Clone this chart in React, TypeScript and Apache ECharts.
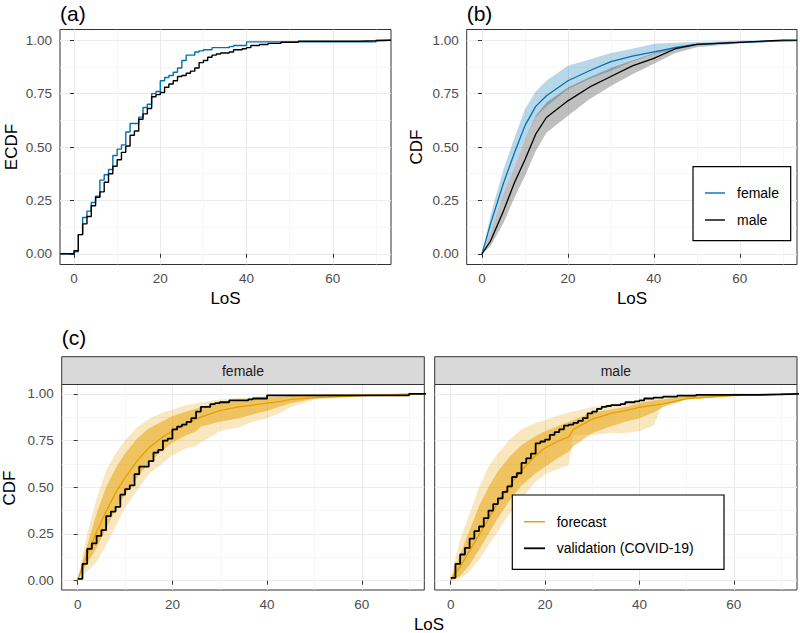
import React, { useEffect, useRef } from "react";
import * as echarts from "echarts";

const FONT = "'Liberation Sans', Arial, sans-serif";

// ---- tick values ----
const X_MAJOR = [0, 20, 40, 60];
const X_MINOR = [10, 30, 50, 70];
const Y_MAJOR = [0, 0.25, 0.5, 0.75, 1];
const Y_MINOR = [0.125, 0.375, 0.625, 0.875];

// ---- (a) empirical CDFs ----
const FEM_X = [0, 1, 2, 3, 4, 5, 6, 7, 8, 9, 10, 11, 12, 13, 15, 16, 17, 18, 19, 20, 21, 22, 23, 24, 25, 26, 28, 29, 30, 32, 36, 37, 40, 70];
const FEM_Y = [0.01, 0.09, 0.17, 0.2, 0.24, 0.27, 0.345, 0.37, 0.395, 0.46, 0.49, 0.51, 0.57, 0.61, 0.64, 0.685, 0.7, 0.75, 0.76, 0.81, 0.825, 0.835, 0.85, 0.87, 0.905, 0.93, 0.945, 0.95, 0.955, 0.965, 0.97, 0.975, 0.992, 1.0];
const MAL_X = [0, 1, 2, 3, 4, 5, 6, 7, 8, 9, 10, 11, 12, 13, 14, 15, 16, 17, 18, 19, 20, 21, 22, 23, 24, 25, 26, 27, 28, 29, 30, 31, 32, 33, 34, 36, 37, 39, 40, 41, 43, 45, 48, 52, 66, 70];
const MAL_Y = [0.015, 0.09, 0.14, 0.175, 0.225, 0.265, 0.29, 0.335, 0.375, 0.41, 0.44, 0.475, 0.505, 0.555, 0.575, 0.63, 0.655, 0.68, 0.735, 0.745, 0.755, 0.78, 0.795, 0.81, 0.83, 0.835, 0.845, 0.855, 0.87, 0.895, 0.905, 0.92, 0.93, 0.935, 0.94, 0.945, 0.955, 0.96, 0.965, 0.975, 0.98, 0.985, 0.99, 0.995, 0.997, 1.0];

// ---- (b) estimated CDFs with bands ----
const XB = [0, 2, 5, 7.5, 10, 12.5, 15, 20, 25, 30, 35, 40, 45, 50, 60, 70, 73.3];
const FB_MED = [0, 0.14, 0.33, 0.47, 0.6, 0.69, 0.74, 0.81, 0.857, 0.9, 0.925, 0.945, 0.965, 0.98, 0.99, 0.997, 0.998];
const FB_LO = [0, 0.1, 0.285, 0.4, 0.536, 0.64, 0.69, 0.77, 0.818, 0.857, 0.9, 0.936, 0.955, 0.975, 0.99, 0.995, 0.996];
const FB_HI = [0, 0.18, 0.395, 0.54, 0.677, 0.76, 0.81, 0.88, 0.91, 0.94, 0.96, 0.983, 0.988, 0.992, 0.997, 1, 1];
const MB_MED = [0, 0.06, 0.2, 0.33, 0.44, 0.56, 0.638, 0.716, 0.78, 0.83, 0.88, 0.915, 0.96, 0.98, 0.99, 1, 1];
const MB_LO = [0, 0.035, 0.144, 0.26, 0.364, 0.48, 0.567, 0.646, 0.724, 0.785, 0.84, 0.89, 0.94, 0.967, 0.985, 0.995, 0.996];
const MB_HI = [0, 0.1, 0.285, 0.4, 0.536, 0.646, 0.708, 0.779, 0.826, 0.87, 0.905, 0.94, 0.97, 0.985, 0.995, 1, 1];

// ---- (c) forecast vs validation ----
const XC = [0, 2, 4, 6, 8, 10, 12.5, 15, 18, 20, 23, 25, 26, 30, 34, 37, 40, 43, 45, 50, 60, 70, 73.3];
const FC_MED = [0.005, 0.14, 0.26, 0.37, 0.47, 0.55, 0.64, 0.71, 0.77, 0.8, 0.845, 0.865, 0.875, 0.91, 0.93, 0.94, 0.95, 0.96, 0.97, 0.98, 0.99, 0.998, 1];
const FC_IN_LO = [0, 0.095, 0.175, 0.28, 0.38, 0.46, 0.55, 0.63, 0.7, 0.74, 0.78, 0.8, 0.825, 0.85, 0.87, 0.89, 0.91, 0.935, 0.95, 0.975, 0.99, 0.997, 0.997];
const FC_IN_HI = [0.005, 0.19, 0.36, 0.5, 0.6, 0.68, 0.76, 0.815, 0.855, 0.88, 0.905, 0.92, 0.93, 0.95, 0.963, 0.97, 0.98, 0.985, 0.99, 0.995, 0.998, 1, 1];
const FC_OUT_LO = [0, 0.05, 0.1, 0.19, 0.29, 0.39, 0.48, 0.57, 0.63, 0.67, 0.71, 0.72, 0.74, 0.8, 0.82, 0.85, 0.87, 0.9, 0.93, 0.97, 0.985, 0.995, 0.995];
const FC_OUT_HI = [0.01, 0.25, 0.44, 0.59, 0.68, 0.75, 0.82, 0.865, 0.9, 0.915, 0.94, 0.95, 0.955, 0.97, 0.978, 0.983, 0.99, 0.993, 0.995, 0.998, 1, 1, 1];
const MC_MED = [0.005, 0.075, 0.16, 0.245, 0.33, 0.42, 0.51, 0.59, 0.67, 0.71, 0.75, 0.77, 0.81, 0.865, 0.895, 0.91, 0.928, 0.94, 0.945, 0.975, 0.99, 1, 1];
const MC_IN_LO = [0, 0.025, 0.085, 0.165, 0.25, 0.335, 0.43, 0.51, 0.575, 0.61, 0.66, 0.69, 0.72, 0.79, 0.827, 0.85, 0.87, 0.9, 0.93, 0.97, 0.99, 0.998, 0.998];
const MC_IN_HI = [0.01, 0.14, 0.27, 0.4, 0.5, 0.586, 0.665, 0.725, 0.775, 0.8, 0.83, 0.85, 0.86, 0.9, 0.916, 0.93, 0.95, 0.965, 0.97, 0.99, 1, 1, 1];
const MC_OUT_LO = [0, 0.01, 0.05, 0.11, 0.19, 0.264, 0.36, 0.44, 0.53, 0.57, 0.6, 0.62, 0.78, 0.78, 0.79, 0.79, 0.8, 0.83, 0.945, 0.97, 0.99, 0.997, 0.997];
const MC_OUT_HI = [0.015, 0.22, 0.36, 0.5, 0.61, 0.68, 0.755, 0.81, 0.845, 0.86, 0.885, 0.9, 0.905, 0.93, 0.945, 0.955, 0.965, 0.975, 0.98, 0.99, 1, 1, 1];

const BLUE = "#0072B2";
const ORANGE = "#E69F00";

// grid layout: [left, top, width, height, xmin, xmax]
const GRIDS = [
  [60, 29.5, 331, 235, -3.25, 73.5],
  [466.7, 29.5, 330.3, 235, -3.55, 73.3],
  [61.7, 384.5, 362.6, 205.5, -3.38, 73.2],
  [434.7, 384.5, 362.3, 205.5, -3.4, 73.4],
];
const Y_MIN = -0.05;
const Y_MAX = 1.05;

function pairs(xs: number[], ys: number[]) {
  return xs.map((x, i) => [x, ys[i]]);
}

function ribbon(xs: number[], lo: number[], hi: number[], gi: number, fill: string, z: number) {
  return {
    type: "custom",
    xAxisIndex: 2 * gi,
    yAxisIndex: 2 * gi,
    clip: true,
    silent: true,
    z,
    data: xs.map((x, i) => [x, lo[i], hi[i]]),
    encode: { x: 0, y: [1, 2] },
    renderItem: (params: any, api: any) => {
      if (params.dataIndex !== 0) return null;
      const pts: number[][] = [];
      for (let i = 0; i < xs.length; i++) pts.push(api.coord([xs[i], hi[i]]));
      for (let i = xs.length - 1; i >= 0; i--) pts.push(api.coord([xs[i], lo[i]]));
      return { type: "polygon", shape: { points: pts }, style: { fill, stroke: null } };
    },
  };
}

function line(data: number[][], gi: number, color: string, width: number, step: any, z: number) {
  return {
    type: "line",
    xAxisIndex: 2 * gi,
    yAxisIndex: 2 * gi,
    data,
    step,
    symbol: "none",
    showSymbol: false,
    clip: true,
    silent: true,
    z,
    lineStyle: { color, width },
    itemStyle: { color },
  };
}

function buildAxes() {
  const xAxis: any[] = [];
  const yAxis: any[] = [];
  GRIDS.forEach((g, gi) => {
    const [, , , , xmin, xmax] = g;
    xAxis.push({
      type: "value", gridIndex: gi, min: xmin, max: xmax, position: "bottom",
      axisLine: { show: false },
      axisTick: { show: true, length: 4, lineStyle: { color: "#333333", width: 1 }, customValues: X_MAJOR },
      axisLabel: { show: true, customValues: X_MAJOR, color: "#4d4d4d", fontSize: 13.5, fontFamily: FONT, margin: 7, formatter: (v: number) => String(v) },
      splitLine: { show: true, lineStyle: { color: "#ebebeb", width: 1 } },
    });
    xAxis.push({
      type: "value", gridIndex: gi, min: xmin, max: xmax, position: "top",
      axisLine: { show: false },
      axisTick: { show: false, customValues: X_MINOR },
      axisLabel: { show: false, customValues: X_MINOR },
      splitLine: { show: true, lineStyle: { color: "#f2f2f2", width: 0.7 } },
    });
    const showY = gi !== 3;
    yAxis.push({
      type: "value", gridIndex: gi, min: Y_MIN, max: Y_MAX, position: "left",
      axisLine: { show: false },
      axisTick: { show: showY, length: 4, lineStyle: { color: "#333333", width: 1 }, customValues: Y_MAJOR },
      axisLabel: { show: showY, customValues: Y_MAJOR, color: "#4d4d4d", fontSize: 13.5, fontFamily: FONT, margin: 8, formatter: (v: number) => v.toFixed(2) },
      splitLine: { show: true, lineStyle: { color: "#ebebeb", width: 1 } },
    });
    yAxis.push({
      type: "value", gridIndex: gi, min: Y_MIN, max: Y_MAX, position: "right",
      axisLine: { show: false },
      axisTick: { show: false, customValues: Y_MINOR },
      axisLabel: { show: false, customValues: Y_MINOR },
      splitLine: { show: true, lineStyle: { color: "#f2f2f2", width: 0.7 } },
    });
  });
  return { xAxis, yAxis };
}

function txt(text: string, x: number, y: number, size: number, opts: any = {}) {
  return {
    type: "text", x, y, z: 100, rotation: opts.rotation || 0,
    style: {
      text, fontSize: size, fontFamily: FONT, fill: opts.color || "#000000",
      align: opts.align || "center", verticalAlign: "middle",
    },
  };
}

function buildOption() {
  const { xAxis, yAxis } = buildAxes();
  const ax = GRIDS[0];
  const padA = (xs: number[], ys: number[]) => [[ax[4], 0], ...pairs(xs, ys), [ax[5], 1]];
  const cxMax = GRIDS[2][5];
  const padC = (xs: number[], ys: number[]) => [...pairs(xs, ys), [cxMax + 1, 1]];

  const series: any[] = [
    // (a)
    line(padA(FEM_X, FEM_Y), 0, BLUE, 1.4, "end", 3),
    line(padA(MAL_X, MAL_Y), 0, "#000000", 1.4, "end", 4),
    // (b)
    ribbon(XB, FB_LO, FB_HI, 1, "rgba(0,114,178,0.28)", 1),
    ribbon(XB, MB_LO, MB_HI, 1, "rgba(0,0,0,0.25)", 1),
    line(pairs(XB, FB_MED), 1, BLUE, 1.3, false, 3),
    line(pairs(XB, MB_MED), 1, "#000000", 1.3, false, 4),
    // (c) female
    ribbon(XC, FC_OUT_LO, FC_OUT_HI, 2, "rgba(230,159,0,0.25)", 1),
    ribbon(XC, FC_IN_LO, FC_IN_HI, 2, "rgba(230,159,0,0.5)", 1),
    line(pairs(XC, FC_MED), 2, ORANGE, 1.3, false, 3),
    line(padC(FEM_X, FEM_Y), 2, "#000000", 1.8, "end", 4),
    // (c) male
    ribbon(XC, MC_OUT_LO, MC_OUT_HI, 3, "rgba(230,159,0,0.25)", 1),
    ribbon(XC, MC_IN_LO, MC_IN_HI, 3, "rgba(230,159,0,0.5)", 1),
    line(pairs(XC, MC_MED), 3, ORANGE, 1.3, false, 3),
    line(padC(MAL_X, MAL_Y), 3, "#000000", 1.8, "end", 4),
  ];

  const grid = GRIDS.map((g) => ({
    left: g[0], top: g[1], width: g[2], height: g[3],
    show: true, borderColor: "#333333", borderWidth: 1, backgroundColor: "transparent",
    containLabel: false,
  }));

  const strip = (g: number[], label: string) => [
    { type: "rect", z: 90, shape: { x: g[0], y: 356.7, width: g[2], height: g[1] - 356.7 }, style: { fill: "#d9d9d9", stroke: "#333333", lineWidth: 1 } },
    txt(label, g[0] + g[2] / 2, 371, 14, { color: "#1a1a1a" }),
  ];

  const graphic: any[] = [
    txt("(a)", 60, 13, 21, { align: "left" }),
    txt("(b)", 466.7, 13, 21, { align: "left" }),
    txt("(c)", 61.7, 337, 21, { align: "left" }),
    txt("ECDF", 11, 147, 17, { rotation: Math.PI / 2 }),
    txt("CDF", 416.5, 147, 17, { rotation: Math.PI / 2 }),
    txt("LoS", 225.5, 298, 17),
    txt("LoS", 632, 298, 17),
    txt("CDF", 9.5, 488, 17, { rotation: Math.PI / 2 }),
    txt("LoS", 429, 624, 17),
    ...strip(GRIDS[2], "female"),
    ...strip(GRIDS[3], "male"),
    // legend (b)
    { type: "rect", z: 95, shape: { x: 693, y: 166.7, width: 97.7, height: 74 }, style: { fill: "#ffffff", stroke: "#000000", lineWidth: 1.2 } },
    { type: "line", z: 100, shape: { x1: 705, y1: 193, x2: 725, y2: 193 }, style: { stroke: BLUE, lineWidth: 1.4 } },
    { type: "line", z: 100, shape: { x1: 705, y1: 220, x2: 725, y2: 220 }, style: { stroke: "#000000", lineWidth: 1.4 } },
    txt("female", 737, 193, 14, { align: "left" }),
    txt("male", 737, 220, 14, { align: "left" }),
    // legend (c)
    { type: "rect", z: 95, shape: { x: 512.3, y: 495, width: 211.7, height: 74.3 }, style: { fill: "#ffffff", stroke: "#000000", lineWidth: 1.2 } },
    { type: "line", z: 100, shape: { x1: 524, y1: 521.7, x2: 545, y2: 521.7 }, style: { stroke: ORANGE, lineWidth: 1.4 } },
    { type: "line", z: 100, shape: { x1: 524, y1: 548.3, x2: 545, y2: 548.3 }, style: { stroke: "#000000", lineWidth: 1.8 } },
    txt("forecast", 556.7, 521.7, 14, { align: "left" }),
    txt("validation (COVID-19)", 556.7, 548.3, 14, { align: "left" }),
  ];

  return {
    animation: false,
    backgroundColor: "#ffffff",
    textStyle: { fontFamily: FONT },
    grid,
    xAxis,
    yAxis,
    series,
    graphic,
  };
}

export default function App() {
  const ref = useRef<HTMLDivElement>(null);
  useEffect(() => {
    if (!ref.current) return;
    const chart = echarts.init(ref.current, null, { renderer: "svg" });
    chart.setOption(buildOption() as any);
    return () => chart.dispose();
  }, []);
  return (
    <div
      ref={ref}
      style={{ position: "fixed", left: 0, top: 0, width: 800, height: 633, background: "#fff" }}
    />
  );
}
